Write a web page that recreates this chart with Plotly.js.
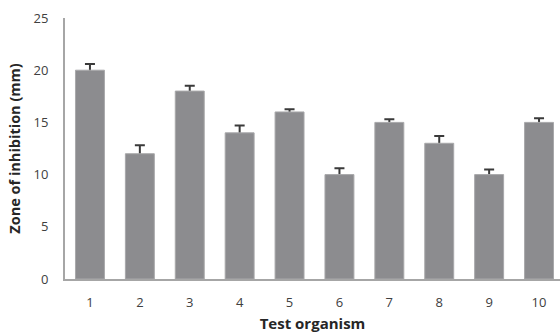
<!DOCTYPE html>
<html>
<head>
<meta charset="utf-8">
<script src="https://cdn.plot.ly/plotly-3.0.1.min.js"></script>
<style>
  html, body { margin: 0; padding: 0; background: #fff; }
  #chart { width: 560px; height: 336px; }
</style>
</head>
<body>
<div id="chart"></div>
<script>
// Zone of inhibition per test organism, with standard error
const organisms = ['1', '2', '3', '4', '5', '6', '7', '8', '9', '10'];
const zoneMm = [20, 12, 18, 14, 16, 10, 15, 13, 10, 15];
const zoneErr = [0.6, 0.8, 0.5, 0.7, 0.25, 0.6, 0.3, 0.7, 0.5, 0.4];
const yTicks = [0, 5, 10, 15, 20, 25];

// Error whiskers live on a transparent bar trace underneath, so the
// visible bars (drawn after it in overlay mode) hide the lower half.
const whiskers = {
  type: 'bar',
  x: organisms,
  y: zoneMm,
  marker: { color: 'rgba(0,0,0,0)' },
  error_y: {
    type: 'data',
    array: zoneErr,
    symmetric: false,
    arrayminus: zoneMm,
    visible: true,
    color: '#3a3a3a',
    thickness: 2,
    width: 5
  },
  hoverinfo: 'none'
};

const bars = {
  type: 'bar',
  x: organisms,
  y: zoneMm,
  marker: { color: '#8c8c8f', line: { color: '#a8a8aa', width: 1 } },
  hoverinfo: 'none'
};

const layout = {
  width: 560,
  height: 336,
  margin: { l: 65, r: 0, t: 18, b: 57 },
  paper_bgcolor: '#ffffff',
  plot_bgcolor: '#ffffff',
  barmode: 'overlay',
  bargap: 0.42,
  showlegend: false,
  font: { family: 'Open Sans, sans-serif', color: '#404040', size: 13 },
  xaxis: {
    type: 'category',
    range: [-0.5, 9.42],
    showgrid: false,
    zeroline: false,
    showline: true,
    linecolor: '#a6a6a6',
    linewidth: 2,
    ticks: 'outside',
    ticklen: 10,
    tickcolor: 'rgba(0,0,0,0)',
    tickfont: { size: 13, color: '#404040' },
    title: {
      text: '<b>Test organism</b>',
      font: { size: 15, color: '#262626' },
      standoff: 9
    }
  },
  yaxis: {
    range: [0, 25],
    tickvals: yTicks,
    showgrid: false,
    zeroline: false,
    showline: true,
    linecolor: '#a6a6a6',
    linewidth: 2,
    ticks: 'outside',
    ticklen: 12,
    tickcolor: 'rgba(0,0,0,0)',
    tickfont: { size: 13, color: '#404040' },
    title: {
      text: '<b>Zone of inhibition (mm)</b>',
      font: { size: 14.5, color: '#262626' },
      standoff: 9
    }
  }
};

Plotly.newPlot('chart', [whiskers, bars], layout, { displayModeBar: false, staticPlot: true });
</script>
</body>
</html>
